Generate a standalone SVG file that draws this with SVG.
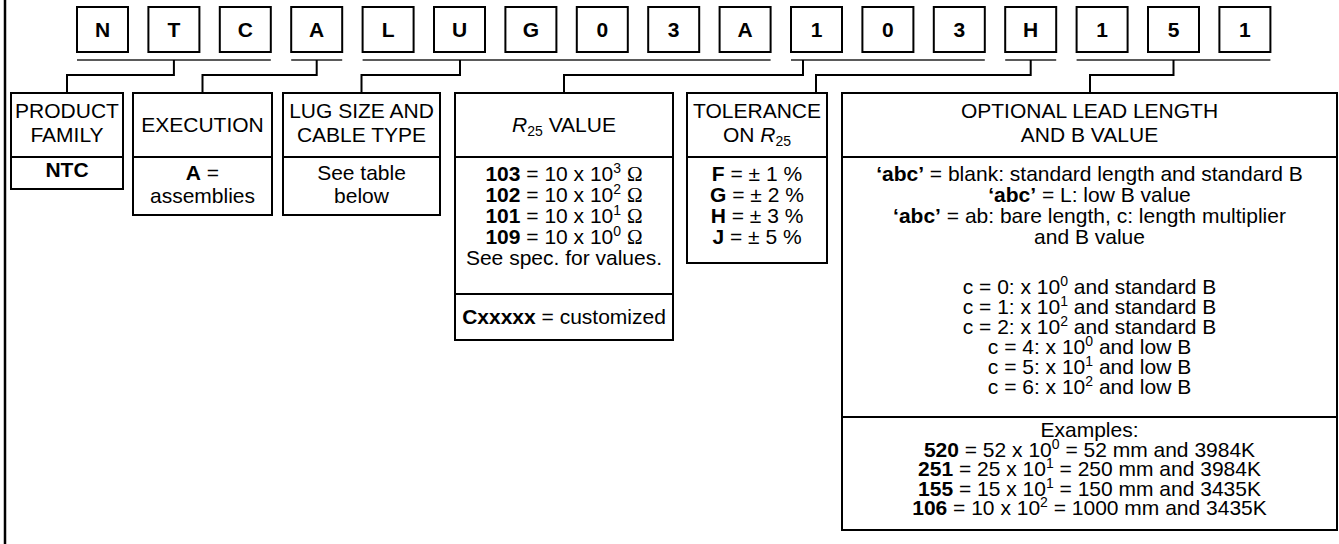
<svg xmlns="http://www.w3.org/2000/svg" width="1339" height="544" viewBox="0 0 1339 544">
<style>
text{font-family:"Liberation Sans",Arial,Helvetica,sans-serif;font-size:21px;fill:#000;text-anchor:middle}
.b{font-weight:bold}
.box{fill:#fff;stroke:#000;stroke-width:2}
.div{stroke:#000;stroke-width:2}
.ul{stroke:#5a5a5a;stroke-width:2;fill:none}
.con{stroke:#000;stroke-width:2;fill:none}
.om{font-family:"Liberation Serif","Times New Roman",serif}
</style>
<rect width="1339" height="544" fill="#fff"/>
<line x1="5" y1="0" x2="5" y2="544" stroke="#000" stroke-width="2.5"/>
<g id="code">
<g id="c0"><rect class="box" x="77" y="7" width="51" height="45"/><text class="b" x="102.5" y="37">N</text></g>
<g id="c1"><rect class="box" x="148.4" y="7" width="51" height="45"/><text class="b" x="173.9" y="37">T</text></g>
<g id="c2"><rect class="box" x="219.8" y="7" width="51" height="45"/><text class="b" x="245.3" y="37">C</text></g>
<g id="c3"><rect class="box" x="291.2" y="7" width="51" height="45"/><text class="b" x="316.7" y="37">A</text></g>
<g id="c4"><rect class="box" x="362.6" y="7" width="51" height="45"/><text class="b" x="388.1" y="37">L</text></g>
<g id="c5"><rect class="box" x="434" y="7" width="51" height="45"/><text class="b" x="459.5" y="37">U</text></g>
<g id="c6"><rect class="box" x="505.4" y="7" width="51" height="45"/><text class="b" x="530.9" y="37">G</text></g>
<g id="c7"><rect class="box" x="576.8" y="7" width="51" height="45"/><text class="b" x="602.3" y="37">0</text></g>
<g id="c8"><rect class="box" x="648.2" y="7" width="51" height="45"/><text class="b" x="673.7" y="37">3</text></g>
<g id="c9"><rect class="box" x="719.6" y="7" width="51" height="45"/><text class="b" x="745.1" y="37">A</text></g>
<g id="c10"><rect class="box" x="791" y="7" width="51" height="45"/><text class="b" x="816.5" y="37">1</text></g>
<g id="c11"><rect class="box" x="862.4" y="7" width="51" height="45"/><text class="b" x="887.9" y="37">0</text></g>
<g id="c12"><rect class="box" x="933.8" y="7" width="51" height="45"/><text class="b" x="959.3" y="37">3</text></g>
<g id="c13"><rect class="box" x="1005.2" y="7" width="51" height="45"/><text class="b" x="1030.7" y="37">H</text></g>
<g id="c14"><rect class="box" x="1076.6" y="7" width="51" height="45"/><text class="b" x="1102.1" y="37">1</text></g>
<g id="c15"><rect class="box" x="1148" y="7" width="51" height="45"/><text class="b" x="1173.5" y="37">5</text></g>
<g id="c16"><rect class="box" x="1219.4" y="7" width="51" height="45"/><text class="b" x="1244.9" y="37">1</text></g>
</g>
<g id="connectors">
<line class="ul" x1="77" y1="60" x2="270.8" y2="60"/>
<line class="ul" x1="291.2" y1="60" x2="342.2" y2="60"/>
<line class="ul" x1="362.6" y1="60" x2="770.6" y2="60"/>
<line class="ul" x1="791" y1="60" x2="984.8" y2="60"/>
<line class="ul" x1="1005.2" y1="60" x2="1056.2" y2="60"/>
<line class="ul" x1="1076.6" y1="60" x2="1270.4" y2="60"/>
<path class="con" d="M173.9 60V75H67V93"/>
<path class="con" d="M316.7 60V75H202.5V93"/>
<path class="con" d="M460 60V75H361.5V93"/>
<path class="con" d="M803 60V75H564V93"/>
<path class="con" d="M1030.7 60V75H816V93"/>
<path class="con" d="M1173.5 60V75H1090V93"/>
</g>
<g id="product-family">
<rect class="box" x="11" y="93" width="112" height="96"/>
<line class="div" x1="11" y1="157" x2="123" y2="157"/>
<text x="67" y="118">PRODUCT</text>
<text x="67" y="142">FAMILY</text>
<text class="b" x="67" y="177">NTC</text>
</g>
<g id="execution">
<rect class="box" x="133" y="93" width="139" height="122"/>
<line class="div" x1="133" y1="157" x2="272" y2="157"/>
<text x="202.5" y="132">EXECUTION</text>
<text x="202.5" y="180"><tspan class="b">A</tspan> =</text>
<text x="202.5" y="203">assemblies</text>
</g>
<g id="lug-size">
<rect class="box" x="283" y="93" width="157" height="122"/>
<line class="div" x1="283" y1="157" x2="440" y2="157"/>
<text x="361.5" y="118">LUG SIZE AND</text>
<text x="361.5" y="142">CABLE TYPE</text>
<text x="361.5" y="180">See table</text>
<text x="361.5" y="203">below</text>
</g>
<g id="r25-value">
<rect class="box" x="455" y="93" width="218" height="247"/>
<line class="div" x1="455" y1="157" x2="673" y2="157"/>
<line class="div" x1="455" y1="294" x2="673" y2="294"/>
<text x="564" y="132"><tspan font-style="italic">R</tspan><tspan font-size="14" dy="4">25</tspan><tspan dy="-4"> VALUE</tspan></text>
<text x="564" y="181"><tspan class="b">103</tspan> = 10 x 10<tspan font-size="14" dy="-8">3</tspan><tspan dy="8"> </tspan><tspan class="om">Ω</tspan></text>
<text x="564" y="202"><tspan class="b">102</tspan> = 10 x 10<tspan font-size="14" dy="-8">2</tspan><tspan dy="8"> </tspan><tspan class="om">Ω</tspan></text>
<text x="564" y="223"><tspan class="b">101</tspan> = 10 x 10<tspan font-size="14" dy="-8">1</tspan><tspan dy="8"> </tspan><tspan class="om">Ω</tspan></text>
<text x="564" y="244"><tspan class="b">109</tspan> = 10 x 10<tspan font-size="14" dy="-8">0</tspan><tspan dy="8"> </tspan><tspan class="om">Ω</tspan></text>
<text x="564" y="265">See spec. for values.</text>
<text x="564" y="324"><tspan class="b">Cxxxxx</tspan> = customized</text>
</g>
<g id="tolerance">
<rect class="box" x="687" y="93" width="140" height="170"/>
<line class="div" x1="687" y1="157" x2="827" y2="157"/>
<text x="757" y="118">TOLERANCE</text>
<text x="757" y="142">ON <tspan font-style="italic">R</tspan><tspan font-size="14" dy="4">25</tspan></text>
<text x="757" y="181"><tspan class="b">F</tspan> = ± 1 %</text>
<text x="757" y="202"><tspan class="b">G</tspan> = ± 2 %</text>
<text x="757" y="223"><tspan class="b">H</tspan> = ± 3 %</text>
<text x="757" y="244"><tspan class="b">J</tspan> = ± 5 %</text>
</g>
<g id="optional-lead">
<rect class="box" x="842" y="93" width="495" height="437"/>
<line class="div" x1="842" y1="157" x2="1337" y2="157"/>
<line class="div" x1="842" y1="417" x2="1337" y2="417"/>
<text x="1089.5" y="118">OPTIONAL LEAD LENGTH</text>
<text x="1089.5" y="142">AND B VALUE</text>
<text x="1089.5" y="181"><tspan class="b">‘abc’</tspan> = blank: standard length and standard B</text>
<text x="1089.5" y="202"><tspan class="b">‘abc’</tspan> = L: low B value</text>
<text x="1089.5" y="223"><tspan class="b">‘abc’</tspan> = ab: bare length, c: length multiplier</text>
<text x="1089.5" y="244">and B value</text>
<text x="1089.5" y="294">c = 0: x 10<tspan font-size="14" dy="-8">0</tspan><tspan dy="8"> and standard B</tspan></text>
<text x="1089.5" y="314">c = 1: x 10<tspan font-size="14" dy="-8">1</tspan><tspan dy="8"> and standard B</tspan></text>
<text x="1089.5" y="334">c = 2: x 10<tspan font-size="14" dy="-8">2</tspan><tspan dy="8"> and standard B</tspan></text>
<text x="1089.5" y="354">c = 4: x 10<tspan font-size="14" dy="-8">0</tspan><tspan dy="8"> and low B</tspan></text>
<text x="1089.5" y="374">c = 5: x 10<tspan font-size="14" dy="-8">1</tspan><tspan dy="8"> and low B</tspan></text>
<text x="1089.5" y="394">c = 6: x 10<tspan font-size="14" dy="-8">2</tspan><tspan dy="8"> and low B</tspan></text>
<text x="1089.5" y="437">Examples:</text>
<text x="1089.5" y="456.5"><tspan class="b">520</tspan> = 52 x 10<tspan font-size="14" dy="-8">0</tspan><tspan dy="8"> = 52 mm and 3984K</tspan></text>
<text x="1089.5" y="476"><tspan class="b">251</tspan> = 25 x 10<tspan font-size="14" dy="-8">1</tspan><tspan dy="8"> = 250 mm and 3984K</tspan></text>
<text x="1089.5" y="495.5"><tspan class="b">155</tspan> = 15 x 10<tspan font-size="14" dy="-8">1</tspan><tspan dy="8"> = 150 mm and 3435K</tspan></text>
<text x="1089.5" y="515"><tspan class="b">106</tspan> = 10 x 10<tspan font-size="14" dy="-8">2</tspan><tspan dy="8"> = 1000 mm and 3435K</tspan></text>
</g>
</svg>
